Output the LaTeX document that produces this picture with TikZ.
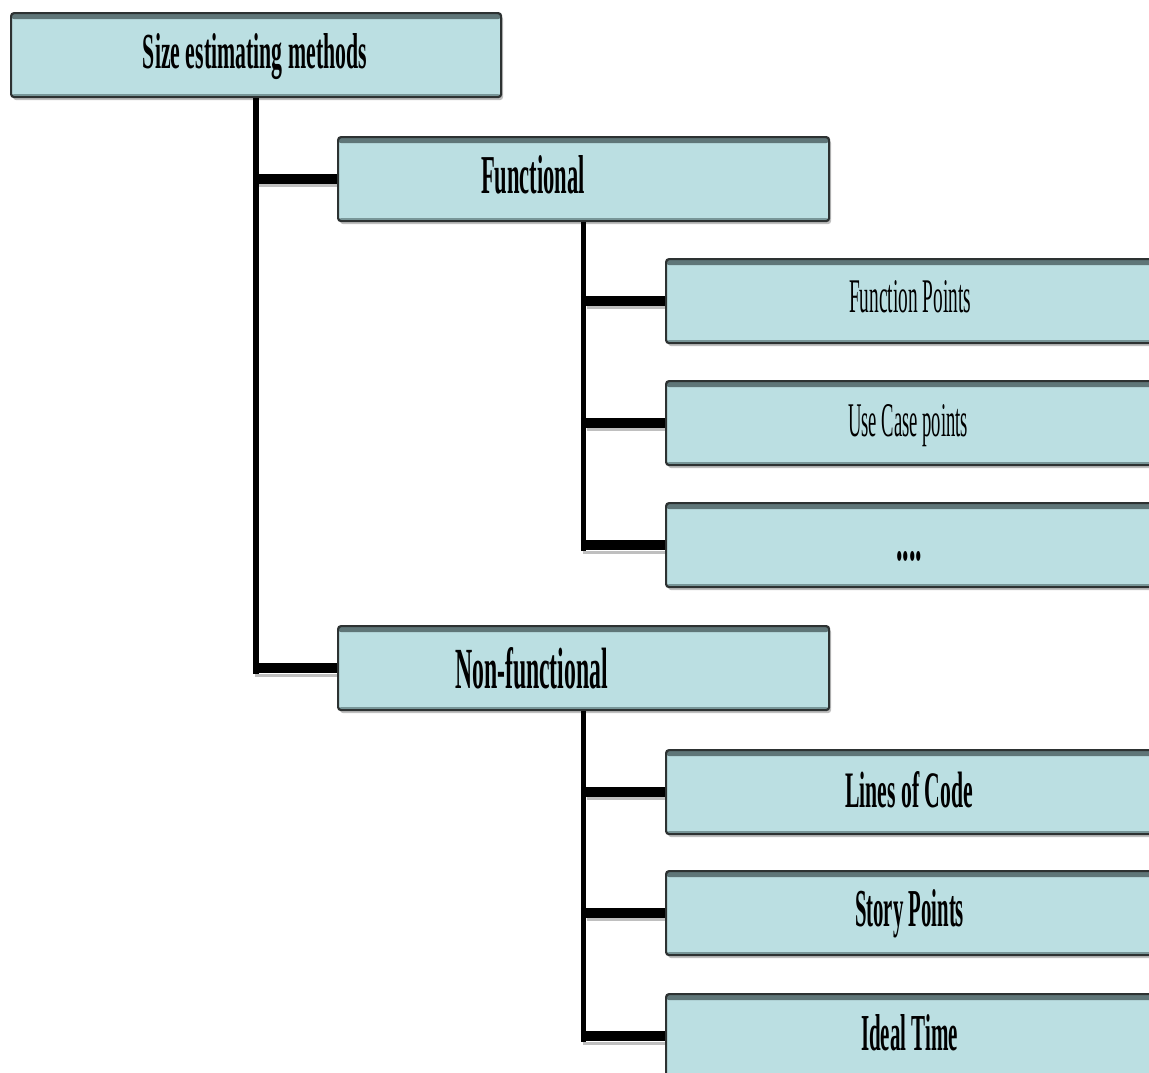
\documentclass[tikz,border=0pt]{standalone}
\usepackage{fontspec}
\setmainfont{Liberation Serif}
\usepackage{graphicx}
\usetikzlibrary{shadows}
\definecolor{boxfill}{RGB}{187,223,226}
\definecolor{boxedge}{RGB}{45,50,50}
\definecolor{bandc}{RGB}{95,118,120}
\definecolor{bandb}{RGB}{120,150,152}
\tikzset{
  box/.style={anchor=north west, fill=boxfill, draw=boxedge, line width=2.2pt,
    rounded corners=3pt, inner sep=0pt, minimum height=84pt,
    drop shadow={shadow xshift=2pt, shadow yshift=-3pt, fill=black!25, opacity=1},
    path picture={\fill[bandc] ([yshift=1pt]path picture bounding box.north west)
      rectangle ([yshift=-6pt]path picture bounding box.north east);
      \fill[bandb] ([yshift=-1pt]path picture bounding box.south west)
      rectangle ([yshift=3pt]path picture bounding box.south east);}},
  midbox/.style={box, minimum width=491pt},
  leafbox/.style={box, minimum width=520pt},
  lbl/.style={anchor=base, inner sep=0pt, outer sep=0pt},
  vline/.style={line width=5.5pt, draw=black},
  hline/.style={line width=10pt, draw=black},
  hshadow/.style={line width=3pt, draw=black!25},
}
\begin{document}
\begin{tikzpicture}[x=1pt,y=-1pt]
\useasboundingbox (0,0) rectangle (1149,1072);
\clip (0,0) rectangle (1149,1072);
% boxes
\node[box, minimum width=490pt] (root) at (10,12) {};
\node[midbox] (func) at (337,136) {};
\node[midbox] (nonf) at (337,625) {};
\node[leafbox] (fp) at (665,258) {};
\node[leafbox] (uc) at (665,380) {};
\node[leafbox] (dots) at (665,502) {};
\node[leafbox] (loc) at (665,749) {};
\node[leafbox] (sp) at (665,870) {};
\node[leafbox] (it) at (665,993) {};
% labels
\node[lbl] (roott) at (255,68) {\resizebox{224pt}{35pt}{\bfseries Size estimating methods}};
\node[lbl] (funct) at (533,193) {\resizebox{104pt}{38pt}{\bfseries Functional}};
\node[lbl] (nonft) at (531.5,688) {\resizebox{153pt}{41pt}{\bfseries Non-functional}};
\node[lbl] (fpt) at (910,312) {\resizebox{122pt}{32pt}{Function Points}};
\node[lbl] (uct) at (908,436) {\resizebox{120pt}{32pt}{Use Case points}};
\node[lbl] (dotst) at (909,560) {\resizebox{26pt}{9pt}{\bfseries ....}};
\node[lbl] (loct) at (909,807) {\resizebox{128pt}{36pt}{\bfseries Lines of Code}};
\node[lbl] (spt) at (909.5,926) {\resizebox{109pt}{37pt}{\bfseries Story Points}};
\node[lbl] (itt) at (909.5,1050) {\resizebox{97pt}{36pt}{\bfseries Ideal Time}};
% connector shadows
\draw[hshadow] ([xshift=3pt,yshift=-6pt]root.south |- func.west) -- ([yshift=-6pt]func.west);
\draw[hshadow] ([xshift=-1pt,yshift=-7pt]root.south |- nonf.west) -- ([yshift=-7pt]nonf.west);
\draw[hshadow] ([xshift=3pt,yshift=-6pt]func.south |- fp.west) -- ([yshift=-6pt]fp.west);
\draw[hshadow] ([xshift=3pt,yshift=-6pt]func.south |- uc.west) -- ([yshift=-6pt]uc.west);
\draw[hshadow] ([xshift=-1pt,yshift=-7pt]func.south |- dots.west) -- ([yshift=-7pt]dots.west);
\draw[hshadow] ([xshift=3pt,yshift=-6pt]nonf.south |- loc.west) -- ([yshift=-6pt]loc.west);
\draw[hshadow] ([xshift=3pt,yshift=-6pt]nonf.south |- sp.west) -- ([yshift=-6pt]sp.west);
\draw[hshadow] ([xshift=-1pt,yshift=-7pt]nonf.south |- it.west) -- ([yshift=-7pt]it.west);
% connectors
\draw[vline] (root.south) -- ([yshift=-6pt]root.south |- nonf.west);
\draw[hline] ([xshift=-2.75pt]root.south |- func.west) -- (func.west);
\draw[hline] ([xshift=-2.75pt]root.south |- nonf.west) -- (nonf.west);
\draw[vline] (func.south) -- ([yshift=-6pt]func.south |- dots.west);
\draw[hline] ([xshift=-2.75pt]func.south |- fp.west) -- (fp.west);
\draw[hline] ([xshift=-2.75pt]func.south |- uc.west) -- (uc.west);
\draw[hline] ([xshift=-2.75pt]func.south |- dots.west) -- (dots.west);
\draw[vline] (nonf.south) -- ([yshift=-6pt]nonf.south |- it.west);
\draw[hline] ([xshift=-2.75pt]nonf.south |- loc.west) -- (loc.west);
\draw[hline] ([xshift=-2.75pt]nonf.south |- sp.west) -- (sp.west);
\draw[hline] ([xshift=-2.75pt]nonf.south |- it.west) -- (it.west);
\end{tikzpicture}
\end{document}
